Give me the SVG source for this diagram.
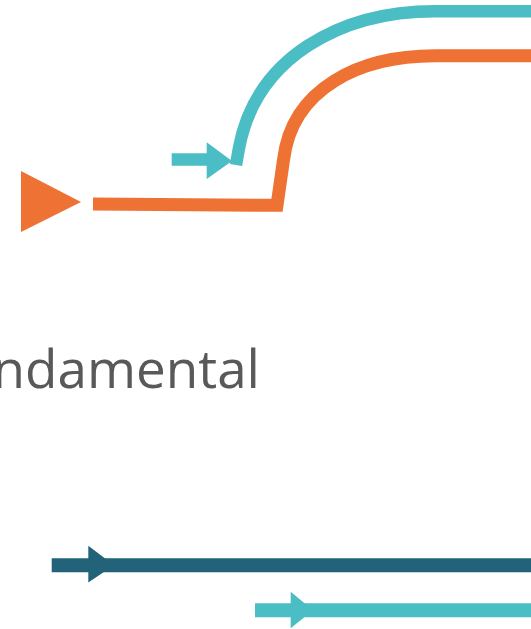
<svg xmlns="http://www.w3.org/2000/svg" width="531" height="629" viewBox="0 0 531 629">
<style>
.teal{stroke:#4bbdc4;fill:none;stroke-width:12.5}
.orange{stroke:#ee7233;fill:none;stroke-width:13}
.dark{stroke:#22637a;fill:none;stroke-width:14}
.label{font-family:"Open Sans","Noto Sans",sans-serif;font-size:53px;fill:#595959}
</style>
<rect width="531" height="629" fill="#ffffff"/>
<g id="connectors">
  <path class="teal" d="M531 11.2 H435 C340 11.2 256 58 239 148 L236 165"/>
  <path class="teal" d="M171.7 159.5 H210"/>
  <polygon fill="#4bbdc4" points="206.7,142.3 232,161 206.7,179"/>
  <path class="orange" d="M531 55.8 H435 C360 55.8 292 88 283.5 160 L277 205.3 L93 204"/>
  <polygon fill="#ee7233" points="21,171 81,202 21,232"/>
  <path class="dark" d="M51.7 565.3 H531"/>
  <polygon fill="#22637a" points="88.3,545.7 114,565.3 88.3,582.5"/>
  <path class="teal" style="stroke-width:14" d="M255 610.3 H531"/>
  <polygon fill="#4bbdc4" points="290.7,591.7 313,610.3 290.7,628.3"/>
</g>
<g id="label">
  <text class="label" x="260" y="388" text-anchor="end">ndamental</text>
</g>
</svg>
